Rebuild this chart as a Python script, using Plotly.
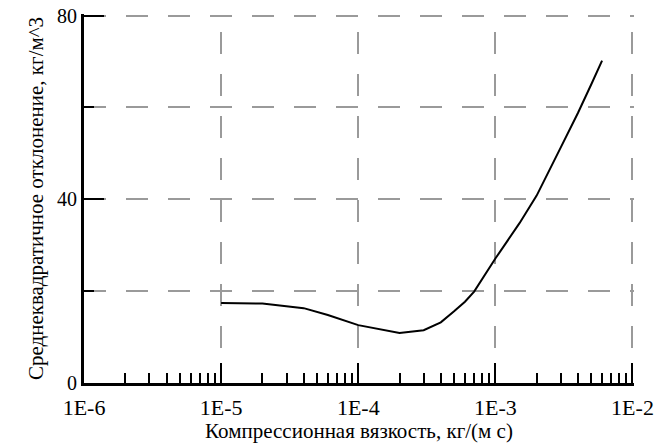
import plotly.graph_objects as go

# Compression viscosity, kg/(m s)
viscosity = [1e-5, 2e-5, 4e-5, 6e-5, 1e-4, 2e-4, 3e-4, 4e-4, 5e-4, 6e-4, 7e-4, 8e-4,
             1e-3, 1.5e-3, 2e-3, 3e-3, 4e-3, 5e-3, 6e-3]
# RMS deviation, kg/m^3
rms_dev = [17.4, 17.3, 16.3, 14.8, 12.6, 10.9, 11.5, 13.2, 15.6, 17.7, 19.9, 22.6,
           27.1, 34.8, 40.8, 51.3, 58.8, 65.0, 70.2]

x_major = [1e-6, 1e-5, 1e-4, 1e-3, 1e-2]
x_labels = ["1E-6", "1E-5", "1E-4", "1E-3", "1E-2"]
x_minor = [k * d for d in [1e-6, 1e-5, 1e-4, 1e-3] for k in range(2, 10)]
y_major = [0, 40, 80]
y_minor = [20, 60]

font = "Liberation Serif"
grid_col = "#9a9a9a"

fig = go.Figure()
fig.add_trace(go.Scatter(
    x=viscosity, y=rms_dev, mode="lines",
    line=dict(color="black", width=2),
    showlegend=False,
))

fig.update_layout(
    width=656, height=443,
    margin=dict(l=84, r=22, t=14, b=60),
    paper_bgcolor="white", plot_bgcolor="white",
    font=dict(family=font, color="black", size=20),
    xaxis=dict(
        type="log", range=[-6, -1.989], automargin=False,
        tickvals=x_major, ticktext=x_labels, ticklabeloverflow="allow",
        ticklabelstandoff=3,
        ticks="inside", ticklen=20, tickwidth=2, tickcolor="black",
        showline=True, linewidth=3, linecolor="black",
        showgrid=True, gridcolor=grid_col, gridwidth=1.5,
        griddash="0px,18px,22px,2px",
        zeroline=False,
        minor=dict(tickvals=x_minor, ticks="inside", ticklen=10,
                   tickwidth=2, tickcolor="black", showgrid=False),
        title=dict(text="Компрессионная вязкость, кг/(м с)",
                   font=dict(family=font, size=21), standoff=0),
        tickfont=dict(family=font, size=22),
    ),
    yaxis=dict(
        range=[0, 80.35], automargin=False,
        tickvals=y_major, ticktext=[str(v) for v in y_major],
        ticklabeloverflow="allow",
        ticks="inside", ticklen=20, tickwidth=2, tickcolor="black",
        showline=True, linewidth=3, linecolor="black",
        showgrid=True, gridcolor=grid_col, gridwidth=1.5,
        griddash="22px,20px",
        zeroline=False,
        minor=dict(tickvals=y_minor, ticks="inside", ticklen=10,
                   tickwidth=2, tickcolor="black", showgrid=True,
                   gridcolor=grid_col, gridwidth=1.5, griddash="22px,20px"),
        title=dict(text="Среднеквадратичное отклонение, кг/м^3",
                   font=dict(family=font, size=21), standoff=8),
        tickfont=dict(family=font, size=20),
    ),
)

fig.write_html("out.html")
